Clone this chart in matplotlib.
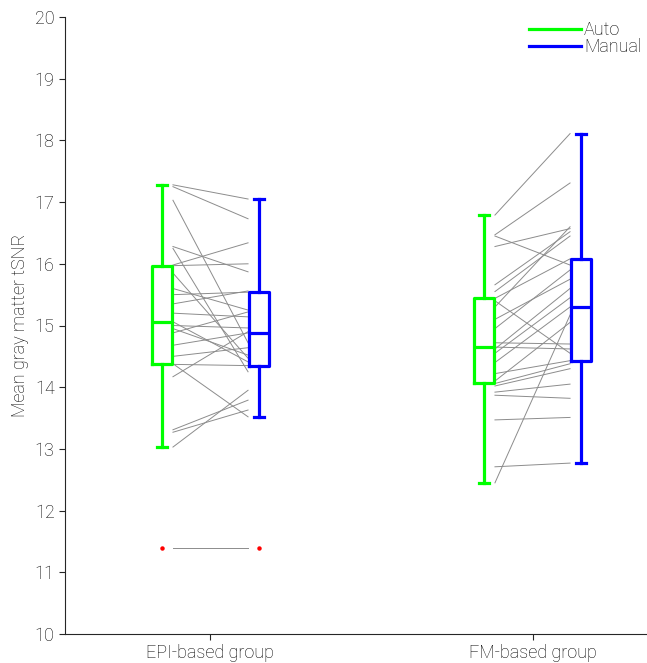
import matplotlib
matplotlib.use('Agg')
import matplotlib.pyplot as plt
from matplotlib.lines import Line2D

# paired values (auto, manual) per subject
epi_auto = [17.28, 17.25, 17.03, 16.28, 16.25, 15.98, 15.97, 15.85, 15.60, 15.50,
            15.35, 14.95, 15.20, 15.00, 15.06, 14.88, 14.68, 14.50, 14.37, 14.38,
            14.17, 13.31, 13.27, 13.03, 11.40]
epi_manual = [17.05, 16.73, 14.72, 15.87, 14.25, 16.34, 16.00, 14.47, 15.25, 15.54,
              15.56, 14.52, 15.14, 14.96, 14.41, 15.22, 14.88, 14.64, 14.35, 13.52,
              14.90, 13.79, 13.63, 13.95, 11.40]

fm_auto = [16.79, 16.47, 16.45, 16.28, 15.66, 15.55, 15.44, 15.40, 15.30, 15.10,
           14.95, 14.72, 14.65, 14.62, 14.55, 14.40, 14.22, 14.10, 14.06, 14.02,
           13.92, 13.87, 13.47, 12.71, 12.45]
fm_manual = [18.11, 17.31, 15.98, 16.57, 16.52, 16.45, 16.08, 14.55, 16.60, 15.75,
             15.90, 14.70, 14.62, 15.60, 15.45, 15.30, 14.43, 15.05, 14.38, 14.30,
             14.05, 13.82, 13.51, 12.77, 15.17]

groups = ['EPI-based group', 'FM-based group']
series = ['Auto', 'Manual']
colors = ['#00ff00', '#0000ff']

plt.rcParams['font.family'] = ['Roboto', 'DejaVu Sans']
plt.rcParams['font.weight'] = 'light'
plt.rcParams['axes.labelweight'] = 'light'

fig = plt.figure(figsize=(6.47, 6.63), dpi=100)
ax = fig.add_axes([65 / 647, 29 / 663, 1 - 65 / 647, 617 / 663])

off = 0.1506
gap = 0.034
data = [(epi_auto, epi_manual), (fm_auto, fm_manual)]

for g, (a, m) in enumerate(data):
    c = g + 1
    # connecting lines
    for ya, ym in zip(a, m):
        ax.plot([c - off + gap, c + off - gap], [ya, ym], color='#8c8c8c', lw=0.7, zorder=1)
    for k, vals in enumerate((a, m)):
        pos = c - off if k == 0 else c + off
        col = colors[k]
        ax.boxplot(vals, positions=[pos], widths=0.062, manage_ticks=False,
                   boxprops=dict(color=col, lw=2.3),
                   whiskerprops=dict(color=col, lw=2.3),
                   capprops=dict(color=col, lw=2.3),
                   medianprops=dict(color=col, lw=2.3),
                   flierprops=dict(marker='o', markersize=2.2, markerfacecolor='red',
                                   markeredgecolor='red'))

ax.set_xlim(1 - 145.5 / 322, 2 + 114.5 / 322)
ax.set_ylim(10, 20)
ax.set_yticks(range(10, 21))
ax.set_xticks([1, 2])
ax.set_xticklabels(groups)
ax.set_ylabel('Mean gray matter tSNR', fontsize=13, color='black', labelpad=4)
ax.tick_params(labelsize=13, labelcolor='black', color='#262626', direction='out', length=4)
for s in ['top', 'right']:
    ax.spines[s].set_visible(False)
for s in ['left', 'bottom']:
    ax.spines[s].set_color('#262626')

handles = [Line2D([0], [0], color=col, lw=2.3) for col in colors]
leg = ax.legend(handles, series, loc='upper right', frameon=False, fontsize=13,
                handlelength=2.9, handletextpad=0.15, labelspacing=-0.05,
                borderaxespad=0.0, bbox_to_anchor=(1.003, 1.005))
for t in leg.get_texts():
    t.set_color('black')

fig.savefig('out.png', dpi=100)
